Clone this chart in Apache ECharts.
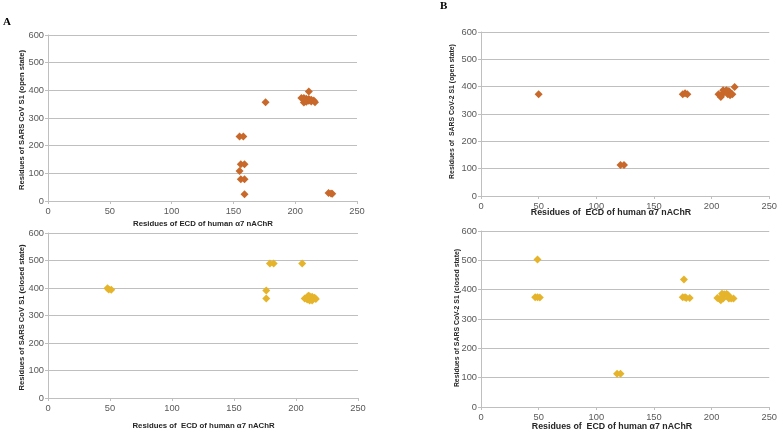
<!DOCTYPE html>
<html>
<head>
<meta charset="utf-8">
<script src="https://cdn.jsdelivr.net/npm/echarts@6/dist/echarts.min.js"></script>
<style>
html,body{margin:0;padding:0;background:#fff;}
#chart{width:780px;height:431px;}
</style>
</head>
<body>
<div id="chart"></div>
<script>
// ---- Data ----
const xTicks = [0, 50, 100, 150, 200, 250];
const yTicks = [0, 100, 200, 300, 400, 500, 600];

// Panel A: SARS CoV S1 (open state)
const covOpen = [
  [155,233],[158,233],[156,133],[159,133],[155,108],[156,79],[159,79],[159,24],
  [176,357],
  [205,372],[207,372],[209,370],[211,369],[213,366],[215,363],[207,356],[209,359],
  [211,362],[213,360],[216,357],[208,364],[211,396],
  [227,29],[229,27],[230,26]
];
// Panel A: SARS CoV S1 (closed state)
const covClosed = [
  [48,399],[49,395],[51,394],
  [176,391],[176,362],
  [179,489],[182,489],[205,489],
  [207,362],[209,358],[209,366],[211,370],[211,362],[211,355],[213,368],[213,360],
  [215,365],[216,360],[213,355],[210,372]
];
// Panel B: SARS CoV-2 S1 (open state)
const cov2Open = [
  [50,372],
  [121,113],[124,113],
  [175,372],[177,376],[179,372],
  [206,372],[208,366],[209,372],[210,387],[212,384],[213,387],[215,384],[214,372],
  [216,369],[218,372],[208,362],[220,399]
];
// Panel B: SARS CoV-2 S1 (closed state)
const cov2Closed = [
  [49,503],[47,374],[49,374],[51,373],
  [118,113],[121,113],
  [176,435],[175,374],[177,374],[178,372],[181,372],
  [205,372],[207,368],[208,364],[209,386],[211,384],[213,385],[214,383],
  [215,370],[217,370],[219,370],[210,370]
];

const xTitleA = 'Residues of ECD of human \u03b17 nAChR';
const xTitleA2 = 'Residues of  ECD of human \u03b17 nAChR';
const xTitleB = 'Residues of  ECD of human \u03b17 nAChR';
const yTitles = [
  'Residues of SARS CoV S1 (open state)',
  'Residues of SARS CoV S1 (closed state)',
  'Residues of  SARS CoV-2 S1 (open state)',
  'Residues of SARS CoV-2 S1 (closed state)'
];

// ---- Chart ----
const FONT = 'Liberation Sans';
const ORANGE = '#C8682A';
const YELLOW = '#E6B42A';
const grids = [
  {left: 48, top: 35, width: 309, height: 166},
  {left: 48, top: 233, width: 310, height: 165},
  {left: 481, top: 32, width: 289, height: 164},
  {left: 481, top: 231, width: 292, height: 176}
];
function xAx(i){
  return {
    type: 'value', gridIndex: i, min: xTicks[0], max: xTicks[xTicks.length-1], interval: 50,
    axisLine: {show: true, lineStyle: {color: '#bfbfbf'}},
    axisTick: {show: true, length: 3, lineStyle: {color: '#bfbfbf'}},
    axisLabel: {color: '#595959', fontSize: 9.3, fontFamily: FONT, margin: 6},
    splitLine: {show: false}
  };
}
function yAx(i){
  return {
    type: 'value', gridIndex: i, min: yTicks[0], max: yTicks[yTicks.length-1], interval: 100,
    axisLine: {show: true, lineStyle: {color: '#bfbfbf'}},
    axisTick: {show: true, length: 3, lineStyle: {color: '#bfbfbf'}},
    axisLabel: {color: '#595959', fontSize: 9.3, fontFamily: FONT, margin: 4},
    splitLine: {show: true, lineStyle: {color: '#bfbfbf'}}
  };
}
function sc(i, data, color){
  return {
    type: 'scatter', xAxisIndex: i, yAxisIndex: i, data: data,
    symbol: 'diamond', symbolSize: 8,
    itemStyle: {color: color, opacity: 1}
  };
}
function txt(x, y, text, size, rot, extra){
  return Object.assign({
    type: 'text', x: x, y: y, rotation: rot || 0,
    style: {text: text, fontSize: size, fontWeight: 'bold', fontFamily: FONT,
      fill: '#262626', align: 'center', verticalAlign: 'middle'}
  }, extra || {});
}
const chart = echarts.init(document.getElementById('chart'), null, {renderer: 'canvas'});
chart.setOption({
  animation: false,
  backgroundColor: '#ffffff',
  grid: grids,
  xAxis: [xAx(0), xAx(1), xAx(2), xAx(3)],
  yAxis: [yAx(0), yAx(1), yAx(2), yAx(3)],
  series: [
    sc(0, covOpen, ORANGE),
    sc(1, covClosed, YELLOW),
    sc(2, cov2Open, ORANGE),
    sc(3, cov2Closed, YELLOW)
  ],
  graphic: [
    {type: 'text', x: 3, y: 17, style: {text: 'A', fontSize: 11, fontWeight: 'bold', fontFamily: 'Liberation Serif', fill: '#000'}},
    {type: 'text', x: 440, y: 1, style: {text: 'B', fontSize: 11, fontWeight: 'bold', fontFamily: 'Liberation Serif', fill: '#000'}},
    txt(203, 224, xTitleA, 7.8),
    txt(203.5, 426, xTitleA2, 7.8),
    txt(611, 213, xTitleB, 8.8),
    txt(612, 426.5, xTitleB, 8.8),
    txt(22, 120, yTitles[0], 7.6, Math.PI/2),
    txt(22, 317.5, yTitles[1], 7.6, Math.PI/2),
    txt(452, 111.5, yTitles[2], 6.9, Math.PI/2),
    txt(457, 318, yTitles[3], 6.9, Math.PI/2)
  ]
});
</script>
</body>
</html>
